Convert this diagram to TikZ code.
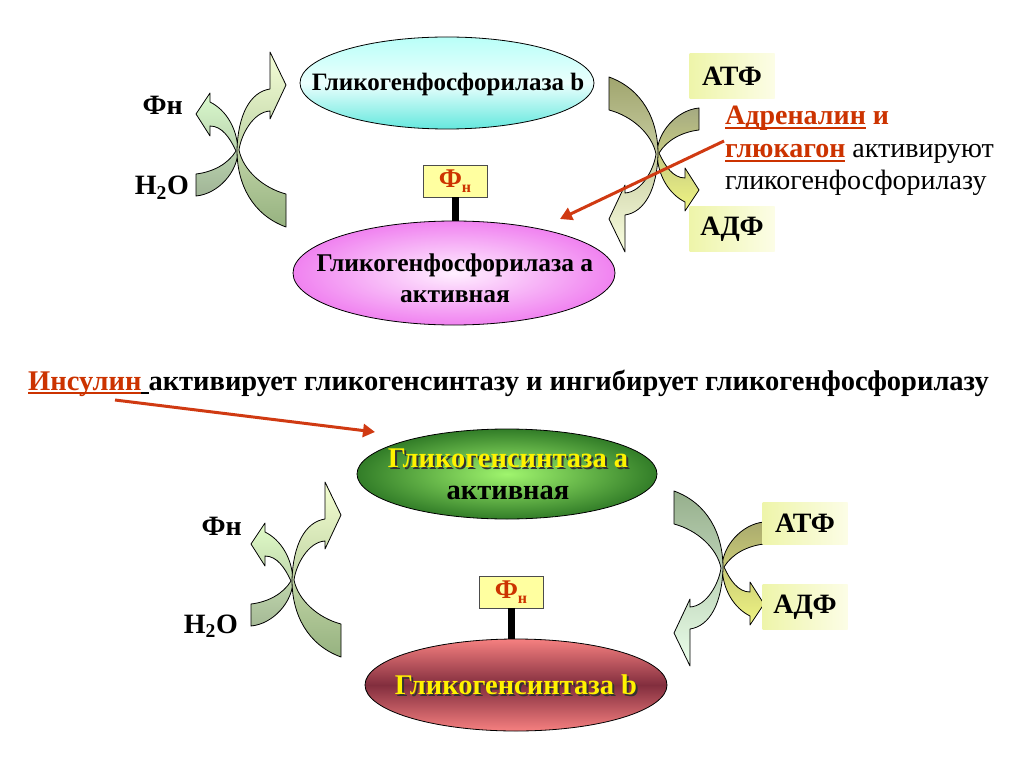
\documentclass[tikz,border=0pt]{standalone}
\usepackage{fontspec}
\setmainfont{Liberation Serif}
\usetikzlibrary{shapes.geometric,arrows.meta}
\definecolor{redt}{RGB}{204,51,0}
\definecolor{redarrow}{RGB}{208,58,18}
\definecolor{boxyel}{RGB}{255,255,160}
\definecolor{cyanL}{RGB}{185,255,248}
\definecolor{cyanM}{RGB}{235,255,253}
\definecolor{cyanD}{RGB}{100,232,222}
\definecolor{pinkD}{RGB}{240,130,240}
\definecolor{pinkL}{RGB}{255,240,255}
\definecolor{grnIn}{RGB}{160,245,110}
\definecolor{grnOut}{RGB}{50,125,40}
\definecolor{redE}{RGB}{246,128,128}
\definecolor{redM}{RGB}{130,46,62}
\definecolor{atpL}{RGB}{238,245,170}
\definecolor{atpR}{RGB}{252,253,230}
\newcommand{\myuline}[1]{\leavevmode\setbox0\hbox{#1}\rlap{\raisebox{-4pt}{\rule{\wd0}{2pt}}}\box0\relax}
\newcommand{\BigArrPath}{(48,77) -- (48,44) .. controls (25,38) and (5,20) .. (1,0) .. controls (3,-15) and (15,-38) .. (32,-39) -- (32,-31) -- (48,-65) -- (32,-98) -- (32,-61) .. controls (12,-58) and (0,-35) .. (-1,0) .. controls (-1,35) and (15,65) .. (48,77) -- cycle}
\newcommand{\SmallArrPath}{(-42,24) .. controls (-25,22) and (-10,14) .. (-2,1) .. controls (-8,-12) and (-16,-24) .. (-28,-24) -- (-28,-14) -- (-42,-36) -- (-28,-57) -- (-28,-48) .. controls (-12,-40) and (-1,-22) .. (0,0) .. controls (0,22) and (-20,44) .. (-42,46) -- cycle}
\tikzset{
  ell/.style={ellipse, draw=black, line width=0.8pt, inner sep=0pt},
  lbl/.style={font=\fontsize{28}{32}\selectfont\bfseries, inner sep=0pt},
  etxt/.style={font=\fontsize{25.5}{31}\selectfont\bfseries, inner sep=0pt, align=center},
  phbox/.style={draw=black!70, fill=boxyel, line width=0.6pt, minimum width=64pt, minimum height=32pt, inner sep=0pt, text=redt, font=\fontsize{27}{30}\selectfont\bfseries},
  stem/.style={line width=7pt, draw=black},
  atpbox/.style={inner sep=0pt, minimum width=85pt, minimum height=45pt, left color=atpL, right color=atpR, font=\fontsize{28}{30}\selectfont\bfseries},
  carrow/.style={draw=black, line width=0.8pt, line join=round},
  redarr/.style={draw=redarrow, line width=3pt, -{Triangle[length=12pt,width=13pt]}},
  ytext/.style={text=yellow, font=\fontsize{28.5}{32}\selectfont\bfseries, inner sep=0pt},
  stext/.style={text=black!80, font=\fontsize{28.5}{32}\selectfont\bfseries, inner sep=0pt},
}
\begin{document}
\begin{tikzpicture}[x=1pt,y=-1pt]
\useasboundingbox[fill=white] (0,0) rectangle (1024,767);

% ---- curved arrows, top left
\begin{scope}[shift={(238,150)}]
  \shade[carrow, top color={rgb,255:red,218;green,250;blue,205}, bottom color={rgb,255:red,160;green,180;blue,150}] \SmallArrPath;
  \shade[carrow, top color={rgb,255:red,245;green,255;blue,215}, bottom color={rgb,255:red,150;green,178;blue,128}] \BigArrPath;
\end{scope}
% ---- curved arrows, bottom left
\begin{scope}[shift={(293,580)}]
  \shade[carrow, top color={rgb,255:red,225;green,252;blue,200}, bottom color={rgb,255:red,165;green,185;blue,150}] \SmallArrPath;
  \shade[carrow, top color={rgb,255:red,245;green,255;blue,210}, bottom color={rgb,255:red,150;green,178;blue,128}] \BigArrPath;
\end{scope}
% ---- curved arrows, top right
\begin{scope}[shift={(657,154)}, rotate=180]
  \shade[carrow, top color={rgb,255:red,165;green,170;blue,130}, bottom color={rgb,255:red,240;green,245;blue,130}] \SmallArrPath;
  \shade[carrow, top color={rgb,255:red,160;green,165;blue,110}, bottom color={rgb,255:red,250;green,255;blue,225}] \BigArrPath;
\end{scope}
% ---- curved arrows, bottom right
\begin{scope}[shift={(722,568)}, rotate=180]
  \shade[carrow, top color={rgb,255:red,170;green,170;blue,110}, bottom color={rgb,255:red,240;green,245;blue,130}] \SmallArrPath;
  \shade[carrow, top color={rgb,255:red,150;green,175;blue,140}, bottom color={rgb,255:red,235;green,255;blue,235}] \BigArrPath;
\end{scope}

% ---- ellipses
\node[ell, minimum width=294pt, minimum height=92pt, top color=cyanL, bottom color=cyanD, middle color=cyanM] (gpb) at (447,83) {};
\node[etxt, font=\fontsize{25}{30}\selectfont\bfseries] (gpbt) at (448,84) {Гликогенфосфорилаза b};
\node[ell, minimum width=322pt, minimum height=104pt, inner color=pinkL, outer color=pinkD] (gpa) at (454,273) {};
\node[etxt] (gpat) at (455,278) {Гликогенфосфорилаза а\\активная};
\node[ell, minimum width=300pt, minimum height=90pt, inner color=grnIn, outer color=grnOut] (gsa) at (507,474) {};
\node[ell, minimum width=302pt, minimum height=92pt, top color=redE, bottom color=redE, middle color=redM] (gsb) at (516,685) {};

\node[stext] at (510,460) {Гликогенсинтаза а};
\node[ytext] (gsat) at (508,458) {Гликогенсинтаза а};
\node[lbl, font=\fontsize{28.5}{32}\selectfont\bfseries] (gsat2) at (508,493) {активная};
\node[stext] at (518,687) {Гликогенсинтаза b};
\node[ytext] (gsbt) at (516,685) {Гликогенсинтаза b};

% ---- phosphate boxes
\node[phbox] (ph1) at (455,181) {Ф\raisebox{-5pt}{\fontsize{16}{16}\selectfont н}};
\draw[stem] (ph1.south) -- (ph1.south |- gpa.north);
\node[phbox] (ph2) at (511,592) {Ф\raisebox{-5pt}{\fontsize{16}{16}\selectfont н}};
\draw[stem] (ph2.south) -- (ph2.south |- gsb.north);

% ---- left labels
\node[lbl, anchor=base east] (fn1) at (183,115) {Фн};
\node[lbl, anchor=base east] (wat1) at (189,195) {H\textsubscript{2}O};
\node[lbl, anchor=base east] (fn2) at (242,535) {Фн};
\node[lbl, anchor=base east] (wat2) at (238,633) {H\textsubscript{2}O};

% ---- ATP / ADP boxes
\node[atpbox] (atp1) at (732,76) {АТФ};
\node[atpbox] (adp1) at (732,229) {АДФ};
\node[atpbox, minimum height=42pt] (atp2) at (805,523) {АТФ};
\node[atpbox] (adp2) at (805,607) {АДФ};

% ---- adrenaline text
\node[inner sep=0pt, anchor=base west, font=\fontsize{28}{32}\selectfont] (adr1) at (725,125)
  {\textcolor{redt}{\bfseries\myuline{Адреналин} и}};
\node[inner sep=0pt, anchor=base west, font=\fontsize{28}{32}\selectfont] (adr2) at (725,158)
  {\textcolor{redt}{\bfseries\myuline{глюкагон}} активируют};
\node[inner sep=0pt, anchor=base west, font=\fontsize{28}{32}\selectfont] (adr3) at (725,190)
  {гликогенфосфорилазу};

% ---- insulin text
\node[inner sep=0pt, anchor=base west, font=\fontsize{28.5}{32}\selectfont\bfseries] (ins) at (28,390)
  {\textcolor{redt}{\myuline{Инсулин}}\myuline{\ }активирует гликогенсинтазу и ингибирует гликогенфосфорилазу};

% ---- red arrows
\coordinate (r1s) at (724,141);
\coordinate (r1e) at (560,219);
\draw[redarr] (r1s) -- (r1e);
\coordinate (r2s) at (115,400);
\coordinate (r2e) at (375,432);
\draw[redarr] (r2s) -- (r2e);
\end{tikzpicture}
\end{document}
